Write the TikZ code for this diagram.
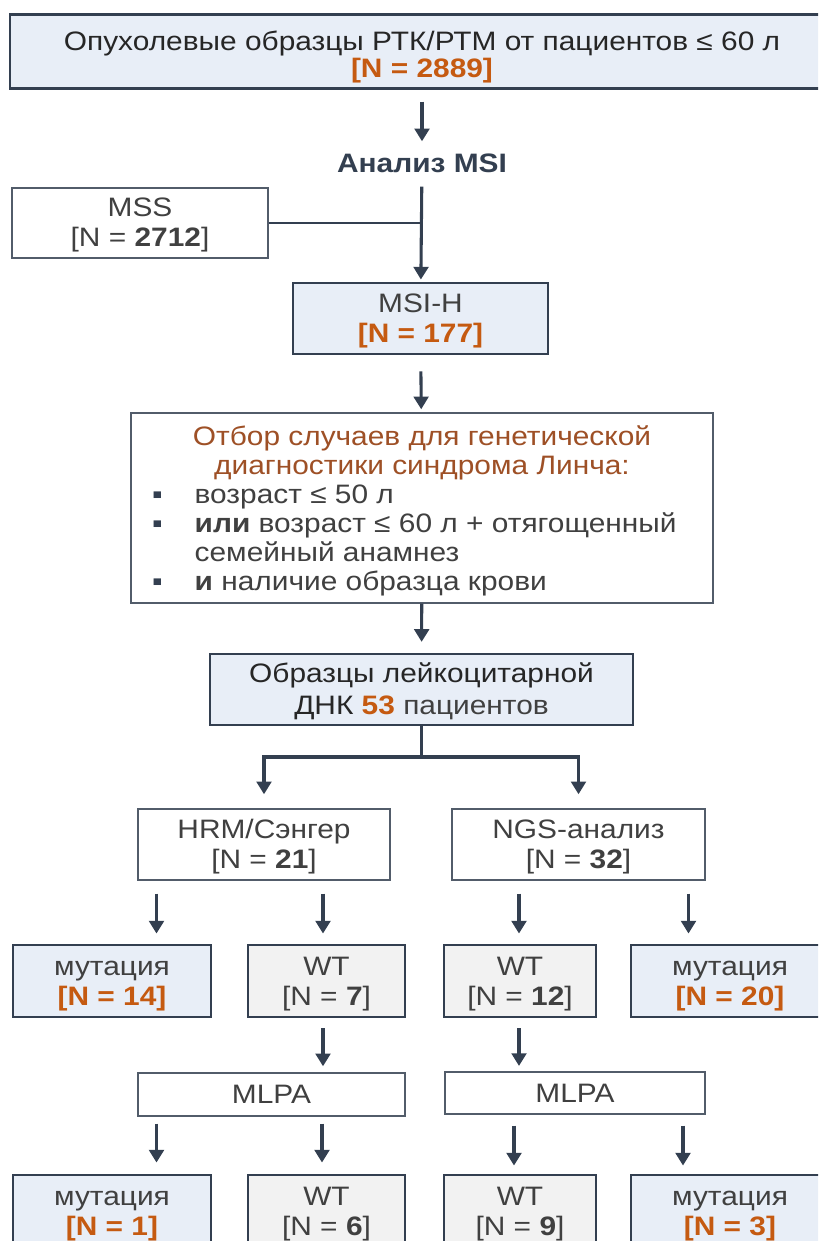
\documentclass[tikz,border=0pt]{standalone}
\usepackage{fontspec}
\setmainfont{Liberation Sans}[FakeStretch=1.12]
\usetikzlibrary{arrows.meta}
\definecolor{Slate}{RGB}{51,63,80}
\definecolor{Ink}{RGB}{64,64,64}
\definecolor{Rust}{RGB}{197,90,17}
\definecolor{Sienna}{RGB}{158,80,38}
\definecolor{Pale}{RGB}{232,238,247}
\definecolor{Mist}{RGB}{242,242,242}
\newcommand{\hit}[1]{\textcolor{Rust}{\textbf{[N = #1]}}}
\newcommand{\tally}[1]{[N = \textbf{#1}]}
\newcommand{\critem}[2]{\makebox[405pt][l]{\makebox[32pt][l]{#1}#2}}
% invisible struts that set the first line height and the last line depth
\newcommand{\hi}[1][20pt]{\rule{0pt}{#1}}
\newcommand{\lo}[1][6.5pt]{\rule[-#1]{0pt}{0pt}}

\begin{document}
\begin{tikzpicture}[x=0.75pt,y=-0.75pt,
  font=\fontsize{20}{22.5}\selectfont,text=Ink,
  box/.style={draw,align=center,inner sep=0pt},
  keybox/.style={box,draw=Slate,line width=2.2pt,fill=Pale},
  wtbox/.style={box,draw=Slate,line width=2.2pt,fill=Mist},
  plain/.style={box,draw=Slate!85,line width=1.1pt,fill=white},
  arr/.style={-{Triangle[width=11pt,length=9.5pt]},line width=2.3pt,Slate},
  link/.style={line width=2.3pt,Slate}]
\useasboundingbox (0,0) rectangle (818,1241);
\clip (0,0) rectangle (818,1241);
% upper part
\node[keybox,minimum width=618pt,minimum height=55pt,text=black!85,font=\fontsize{20}{20.25}\selectfont] (top) at (422,51.5) {\hi[23.5pt]Опухолевые образцы РТК/РТМ от пациентов ≤ 60 л\\\hit{2889}\lo[5pt]};
\node[inner sep=0pt,text=Slate,font=\fontsize{20}{22}\selectfont\bfseries] (ana) at (422,163) {Анализ MSI};
\node[plain,minimum width=192pt,minimum height=52.5pt] (mss) at (140,223) {\hi MSS\\\tally{2712}\lo};
\node[keybox,minimum width=191.25pt,minimum height=53.25pt] (msih) at (420.5,318.5) {\hi MSI-H\\\hit{177}\lo};
\node[plain,font=\fontsize{20}{21.75}\selectfont,minimum width=436.5pt,minimum height=142.5pt] (crit) at (422,508) {\hi[22pt]\textcolor{Sienna}{Отбор случаев для генетической}\\\textcolor{Sienna}{диагностики синдрома Линча:}\\
  \critem{\textcolor{Slate}{▪}}{возраст ≤ 50 л}\\
  \critem{\textcolor{Slate}{▪}}{\textbf{или} возраст ≤ 60 л + отягощенный}\\
  \critem{}{семейный анамнез}\\
  \critem{\textcolor{Slate}{▪}}{\textbf{и} наличие образца крови}\lo};
\node[keybox,minimum width=317.25pt,minimum height=53.25pt,text=black!85,font=\fontsize{20}{24}\selectfont] (dna) at (421.5,689.5) {\hi Образцы лейкоцитарной\\ДНК \textcolor{Rust}{\textbf{53}} \textcolor{Ink}{пациентов}\lo};
\draw[arr,shorten <=9pt,shorten >=9pt] (top) -- (ana);
\draw[arr,shorten <=10.5pt,shorten >=1.5pt] (ana) -- (msih);
\draw[link,line width=1.4pt] (mss.east) -- (mss.east -| ana);
\draw[arr,shorten <=12pt,shorten >=2.25pt] (msih) -- (crit);
\draw[arr,shorten >=8pt] (crit) -- (dna);
% split into two methods
\node[plain,minimum width=189pt,minimum height=53.25pt] (hrm) at (264,844.5) {\hi HRM/Сэнгер\\\tally{21}\lo};
\node[plain,minimum width=189.75pt,minimum height=53.25pt] (ngs) at (578.5,844.5) {\hi NGS-анализ\\\tally{32}\lo};
\coordinate (fork) at (421.5,757);
\draw[link] (dna) -- (fork);
\draw[arr,shorten >=10.5pt] (fork) -| (hrm);
\draw[arr,shorten >=10.5pt] (fork) -| (ngs);
% first results
\node[keybox,minimum width=148.5pt,minimum height=54pt] (mutA) at (112,981) {\hi мутация\\\hit{14}\lo};
\node[wtbox,minimum width=117.75pt,minimum height=54pt] (wtA) at (326.5,981) {\hi WT\\\tally{7}\lo};
\node[wtbox,minimum width=114pt,minimum height=54pt] (wtB) at (520,981) {\hi WT\\\tally{12}\lo};
\node[keybox,minimum width=148.5pt,minimum height=54pt] (mutB) at (730,981) {\hi мутация\\\hit{20}\lo};
\coordinate (c1) at (156.5,0);\coordinate (c2) at (323,0);\coordinate (c3) at (519,0);\coordinate (c4) at (688.5,0);
\draw[arr,shorten <=9.75pt,shorten >=7.5pt] (hrm.south -| c1) -- (mutA.north -| c1);
\draw[arr,shorten <=9.75pt,shorten >=7.5pt] (hrm.south -| c2) -- (wtA.north -| c2);
\draw[arr,shorten <=9.75pt,shorten >=7.5pt] (ngs.south -| c3) -- (wtB.north -| c3);
\draw[arr,shorten <=9.75pt,shorten >=7.5pt] (ngs.south -| c4) -- (mutB.north -| c4);
% MLPA
\node[plain,minimum width=200.25pt,minimum height=32.25pt] (mlpaA) at (271.5,1094.5) {MLPA};
\node[plain,minimum width=195pt,minimum height=31.5pt] (mlpaB) at (575,1093) {MLPA};
\draw[arr,shorten <=7.5pt,shorten >=4.5pt] (wtA.south -| c2) -- (mlpaA.north -| c2);
\draw[arr,shorten <=7.5pt,shorten >=4pt] (wtB.south -| c3) -- (mlpaB.north -| c3);
% second results
\node[keybox,minimum width=148.5pt,minimum height=54pt] (mutC) at (112,1211) {\hi мутация\\\hit{1}\lo};
\node[wtbox,minimum width=117.75pt,minimum height=54pt] (wtC) at (326.5,1211) {\hi WT\\\tally{6}\lo};
\node[wtbox,minimum width=114pt,minimum height=54pt] (wtD) at (520,1211) {\hi WT\\\tally{9}\lo};
\node[keybox,minimum width=148.5pt,minimum height=54pt] (mutD) at (730,1211) {\hi мутация\\\hit{3}\lo};
\coordinate (d1) at (156.5,0);\coordinate (d2) at (322,0);\coordinate (d3) at (514,0);\coordinate (d4) at (683,0);
\draw[arr,shorten <=5.25pt,shorten >=8.25pt] (mlpaA.south -| d1) -- (mutC.north -| d1);
\draw[arr,shorten <=5.25pt,shorten >=8.25pt] (mlpaA.south -| d2) -- (wtC.north -| d2);
\draw[arr,shorten <=8.25pt,shorten >=6pt] (mlpaB.south -| d3) -- (wtD.north -| d3);
\draw[arr,shorten <=8.25pt,shorten >=6pt] (mlpaB.south -| d4) -- (mutD.north -| d4);
\end{tikzpicture}
\end{document}
